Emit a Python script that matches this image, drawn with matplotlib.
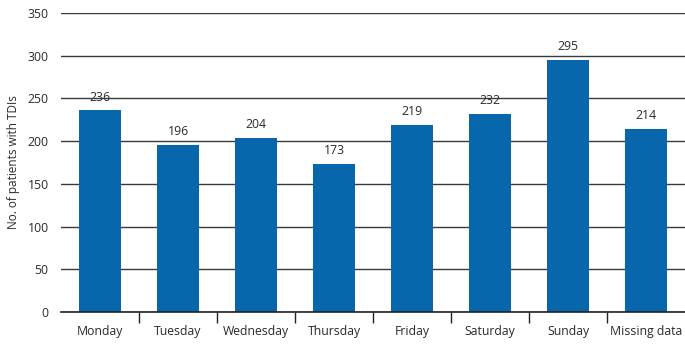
import matplotlib.pyplot as plt
import numpy as np

days = ['Monday', 'Tuesday', 'Wednesday', 'Thursday', 'Friday',
        'Saturday', 'Sunday', 'Missing data']
patients = [236, 196, 204, 173, 219, 232, 295, 214]
yticks = [0, 50, 100, 150, 200, 250, 300, 350]

plt.rcParams['font.family'] = ['Open Sans', 'DejaVu Sans']

fig = plt.figure(figsize=(6.85, 3.54), dpi=100)
ax = fig.add_axes([61 / 685, 1 - 312 / 354, 1 - 61 / 685, (312 - 13) / 354])

x = np.arange(len(days))
ax.bar(x, patients, width=0.54, color='#0866ad', zorder=2)
for xi, v in zip(x, patients):
    ax.text(xi, v + 8, str(v), ha='center', va='bottom', fontsize=8.8,
            color='#2a2a2a', zorder=0.4)

ax.set_xlim(-0.5, len(days) - 0.5)
ax.set_ylim(0, 350)
ax.set_yticks(yticks)
ax.yaxis.grid(True, color='#3a3a3a', linewidth=1.0, zorder=1)
ax.set_axisbelow(True)
for gl in ax.get_ygridlines():
    gl.set_zorder(1)

ax.set_xticks(x)
ax.set_xticklabels(days)
ax.set_xticks(np.arange(0.5, len(days) - 1, 1), minor=True)
ax.tick_params(axis='x', which='major', length=0, pad=9, labelsize=8.8,
               labelcolor='#2a2a2a')
ax.tick_params(axis='x', which='minor', length=8, width=1, color='#222222',
               direction='out')
ax.tick_params(axis='y', length=0, pad=9, labelsize=8.8, labelcolor='#2a2a2a')

for s in ['top', 'right', 'left']:
    ax.spines[s].set_visible(False)
ax.spines['bottom'].set_color('#222222')
ax.spines['bottom'].set_linewidth(1.2)

ax.set_ylabel('No. of patients with TDIs', fontsize=8.5, color='#2a2a2a',
              labelpad=5)

fig.savefig('out.png', dpi=100)
